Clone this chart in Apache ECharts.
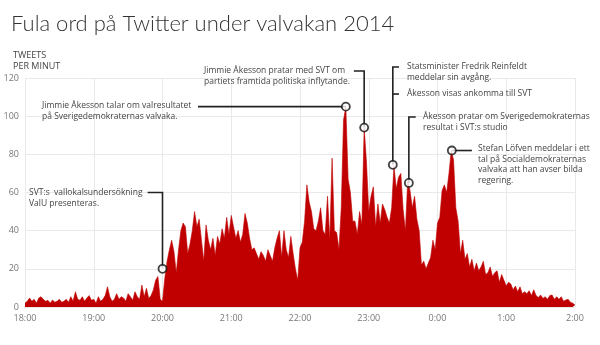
<!DOCTYPE html>
<html><head><meta charset="utf-8">
<script src="https://cdn.jsdelivr.net/npm/echarts/dist/echarts.min.js"></script>
<style>html,body{margin:0;padding:0;background:#fff}#c{width:600px;height:345px}</style>
</head><body><div id="c"></div>
<script>
// ---- data ----
const xLabels = ['18:00','19:00','20:00','21:00','22:00','23:00','0:00','1:00','2:00'];
const yTicks = [0, 20, 40, 60, 80, 100, 120];
const stepMinutes = 2; // one reading every 2 minutes from 18:00
const tweetsPerMinute = [
  2,3,4.7,3,4,2,4.7,5.4,4,3,
  3.5,2,3.7,2.5,3,4,2.5,3,4,2.5,
  5.4,3,8,4,3.5,5.4,3,4.7,6,3.5,
  4,2,5.4,3,4,6,10.6,5.4,3,4,
  7,4,5.4,4.7,3,7,5.4,3.5,8,5.4,
  4,11.5,5.4,9.8,4.5,6,8.9,14,16,4,
  3,15,24,30,35,29,18,30,40,44,
  42,28,33,40,50,42,46,35,24,43,
  35,30,36,27,37,33,41,36,47,38,
  48,42,36,40,34,38,49,44,36,30,
  31,28,25,29,27,24,30,27,24,31,
  36,40,26,40,30,26,37,28,20,14,
  31,34,45,64,55,50,41,40,45,52,
  40,38,58,35,78,40,39,30,52,98,
  105,67,60,45,45,38,50,43,94,76,
  50,58,63,42,54,44,54,51,47,44,
  52,74,62,68,70,51,40,66,61,52,
  58,46,40,22,24,20,23,26,35,30,
  44,47,61,64,60,70,82,77,52,45,
  28,35,25,28,21,25,19,23,19,21,
  24,17,18,21,16,18,19,13,17,14,
  11,13,12,9,11,8,10.6,7,8,7,
  8.5,6,9,6,5,6.3,4.5,5.4,4,6,
  6.3,4,5.4,4,5.4,3,3.7,4,2.5,2,
  1
];
const markerMinutes = [120, 280, 296, 321, 335, 372.5];
const markerValues  = [20, 105, 94, 74.5, 65, 82];
const annotationTexts = [
  'SVT:s  vallokalsundersökning\nValU presenteras.',
  'Jimmie Åkesson talar om valresultatet\npå Sverigedemokraternas valvaka.',
  'Jimmie Åkesson pratar med SVT om\npartiets framtida politiska inflytande.',
  'Statsminister Fredrik Reinfeldt\nmeddelar sin avgång.',
  'Åkesson visas ankomma till SVT',
  'Åkesson pratar om Sverigedemokraternas\nresultat i SVT:s studio',
  'Stefan Löfven meddelar i ett\ntal på Socialdemokraternas\nvalvaka att han avser bilda\nregering.'
];

// ---- layout (pixel / data-space geometry for annotations) ----
const textPos = [[29,187],[42,100],[204,65],[407,61],[407,88],[423,111],[478,143]];
const connectors = [
  [[107,60],[120,60],[120,20]],
  [[151,105],[280,105]],
  [[287,123.7],[296,123.7],[296,94]],
  [[326.4,125.8],[321,125.8],[321,74.5]],
  [[321,111.6],[326.4,111.6]],
  [[341,99.6],[335,99.6],[335,65]],
  [[372.5,82],[390,82]]
];

const seriesData = tweetsPerMinute.map((v, i) => [i * stepMinutes, v]);
const markerData = markerMinutes.map((m, i) => [m, markerValues[i]]);

const chart = echarts.init(document.getElementById('c'), null, {renderer: 'canvas'});
const FONT = '"Open Sans", "DejaVu Sans", sans-serif';
const option = {
  animation: false,
  backgroundColor: '#fff',
  textStyle: {fontFamily: FONT},
  title: [{
    text: 'Fula ord på Twitter under valvakan 2014',
    left: 6, top: 8,
    textStyle: {fontFamily: 'Lato, "Open Sans", sans-serif', fontWeight: 300, fontSize: 22, color: '#333'}
  }, {
    text: 'TWEETS\nPER MINUT',
    left: 8, top: 45,
    textStyle: {fontFamily: FONT, fontWeight: 'normal', fontSize: 9, color: '#444', lineHeight: 11}
  }],
  grid: {left: 25, right: 25, top: 78, bottom: 38},
  xAxis: {
    type: 'value', min: 0, max: 480, interval: 60,
    axisLine: {show: false}, axisTick: {show: false},
    axisLabel: {color: '#777', fontSize: 9, margin: 7, fontFamily: FONT,
      formatter: v => xLabels[Math.round(v / 60)] || ''},
    splitLine: {show: true, lineStyle: {color: '#e9e9e9', width: 1}}
  },
  yAxis: {
    type: 'value', min: yTicks[0], max: yTicks[yTicks.length - 1], interval: 20,
    axisLine: {show: false}, axisTick: {show: false},
    axisLabel: {color: '#777', fontSize: 9, margin: 6, fontFamily: FONT},
    splitLine: {lineStyle: {color: '#e9e9e9', width: 1}}
  },
  series: [{
    type: 'line', data: seriesData, symbol: 'none', sampling: null,
    lineStyle: {color: '#c00000', width: 0.6},
    areaStyle: {color: '#c00000', opacity: 1},
    z: 2
  }, {
    type: 'scatter', data: markerData, symbol: 'circle', symbolSize: 8,
    itemStyle: {color: '#fff', borderColor: '#111', borderWidth: 1.8},
    z: 20, silent: true
  }]
};
chart.setOption(option);

const graphics = [];
connectors.forEach(path => {
  const pts = path.map(p => chart.convertToPixel({gridIndex: 0}, p));
  graphics.push({type: 'polyline', shape: {points: pts}, z: 10,
    style: {stroke: '#222', lineWidth: 1.6, fill: null}});
});
annotationTexts.forEach((t, i) => {
  graphics.push({type: 'text', x: textPos[i][0], y: textPos[i][1], z: 12,
    style: {text: t, fill: '#444', font: '8.5px ' + FONT, lineHeight: 10.8, textVerticalAlign: 'top'}});
});
chart.setOption({graphic: graphics});
</script></body></html>
